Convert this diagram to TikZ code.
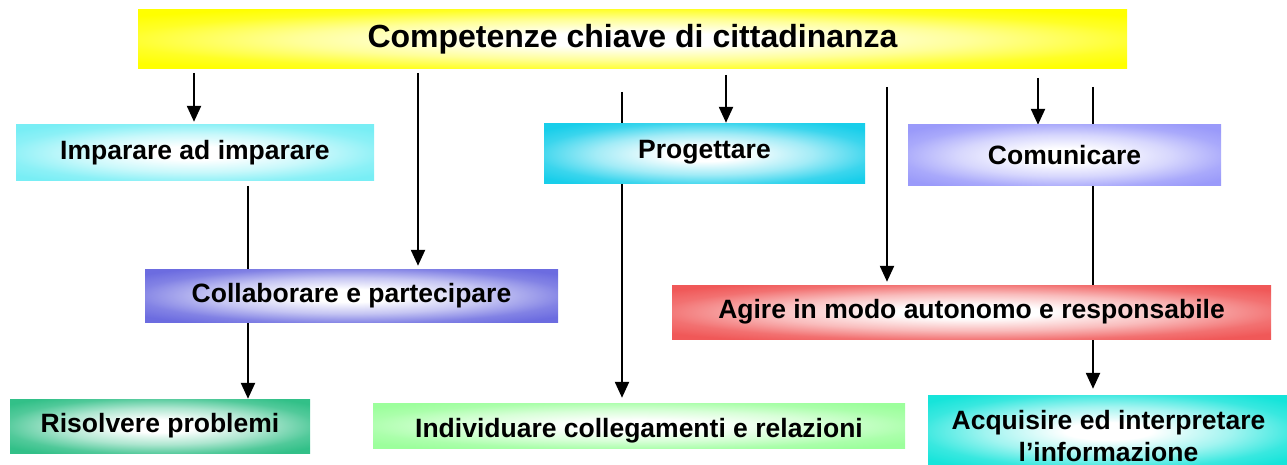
\documentclass[tikz,border=0pt]{standalone}
\usepackage{fontspec}
\setmainfont{Liberation Sans}
\usetikzlibrary{arrows.meta}
\pgfdeclarelayer{bg}
\pgfsetlayers{bg,main}
\colorlet{boxcol}{white}
\pgfdeclareradialshading[boxcol]{boxshade}{\pgfpoint{0bp}{0bp}}{color(0bp)=(white); color(6bp)=(white); color(17bp)=(boxcol!40!white); color(26bp)=(boxcol!85!white); color(32bp)=(boxcol); color(80bp)=(boxcol)}
\definecolor{cYellow}{RGB}{255,255,0}
\definecolor{cImp}{RGB}{120,238,245}
\definecolor{cProg}{RGB}{24,206,234}
\definecolor{cCom}{RGB}{154,154,250}
\definecolor{cColl}{RGB}{108,108,224}
\definecolor{cAgire}{RGB}{240,88,88}
\definecolor{cRis}{RGB}{50,192,136}
\definecolor{cInd}{RGB}{156,255,156}
\definecolor{cAcq}{RGB}{22,228,218}
\tikzset{
  bc/.code={\colorlet{boxcol}{#1}},
  gbox/.style={rectangle, inner sep=0pt, shade, shading=boxshade, align=center,
    font=\bfseries\fontsize{26.5}{32}\selectfont},
  arr/.style={line width=2.3pt, -{Triangle[width=14pt,length=16pt]}},
  ln/.style={line width=2.3pt}
}
\begin{document}
\begin{tikzpicture}[x=1pt,y=-1pt]
\useasboundingbox (0,0) rectangle (1287,465);

% boxes
\node[gbox, bc=cYellow, minimum width=989pt, minimum height=59pt,
  font=\bfseries\fontsize{32}{36}\selectfont] (title) at (632.5,39.5) {Competenze chiave di cittadinanza};
\node[gbox, bc=cImp, minimum width=358pt, minimum height=56pt] (imp) at (195,153) {Imparare ad imparare};
\node[gbox, bc=cProg, minimum width=321pt, minimum height=60pt] (prog) at (704.5,154) {\raisebox{-5pt}[0pt][0pt]{Progettare}};
\node[gbox, bc=cCom, minimum width=313pt, minimum height=61pt] (com) at (1064.5,155.5) {Comunicare};
\node[gbox, bc=cColl, minimum width=413pt, minimum height=53pt] (coll) at (351.5,295.5) {Collaborare e partecipare};
\node[gbox, bc=cAgire, minimum width=599pt, minimum height=54pt] (agire) at (971.5,312) {Agire in modo autonomo e responsabile};
\node[gbox, bc=cRis, minimum width=300pt, minimum height=54pt] (ris) at (160,426) {Risolvere problemi};
\node[gbox, bc=cInd, minimum width=532pt, minimum height=45pt] (ind) at (639,425.5) {\raisebox{-11.5pt}[0pt][0pt]{Individuare collegamenti e relazioni}};
\node[gbox, bc=cAcq, minimum width=361pt, minimum height=72pt] (acq) at (1108.5,431) {\raisebox{-30pt}[0pt][0pt]{\begin{tabular}[b]{@{}c@{}}Acquisire ed interpretare\\ l’informazione\end{tabular}}};

% free start points of connectors
\coordinate (s1) at (194,73);
\coordinate (s2) at (418,73);
\coordinate (s3) at (622,92);
\coordinate (s4) at (726,75);
\coordinate (s5) at (887,87);
\coordinate (s6) at (1038,78);
\coordinate (s7) at (1093,87);
\coordinate (s8) at (248,186);

\begin{pgfonlayer}{bg}
  \draw[arr, shorten >=3pt] (s1) -- (s1 |- imp.north);
  \draw[arr, shorten >=3pt] (s2) -- (s2 |- coll.north);
  \draw[arr, shorten >=5pt] (s3) -- (s3 |- ind.north);
  \draw[arr, shorten >=1pt] (s4) -- (s4 |- prog.north);
  \draw[arr, shorten >=3pt] (s5) -- (s5 |- agire.north);
  \draw[arr, shorten >=0pt] (s6) -- (s6 |- com.north);
  \draw[arr, shorten >=6pt] (s7) -- (s7 |- acq.north);
  \draw[arr, shorten >=0pt] (s8) -- (s8 |- ris.north);
\end{pgfonlayer}
\end{tikzpicture}
\end{document}
